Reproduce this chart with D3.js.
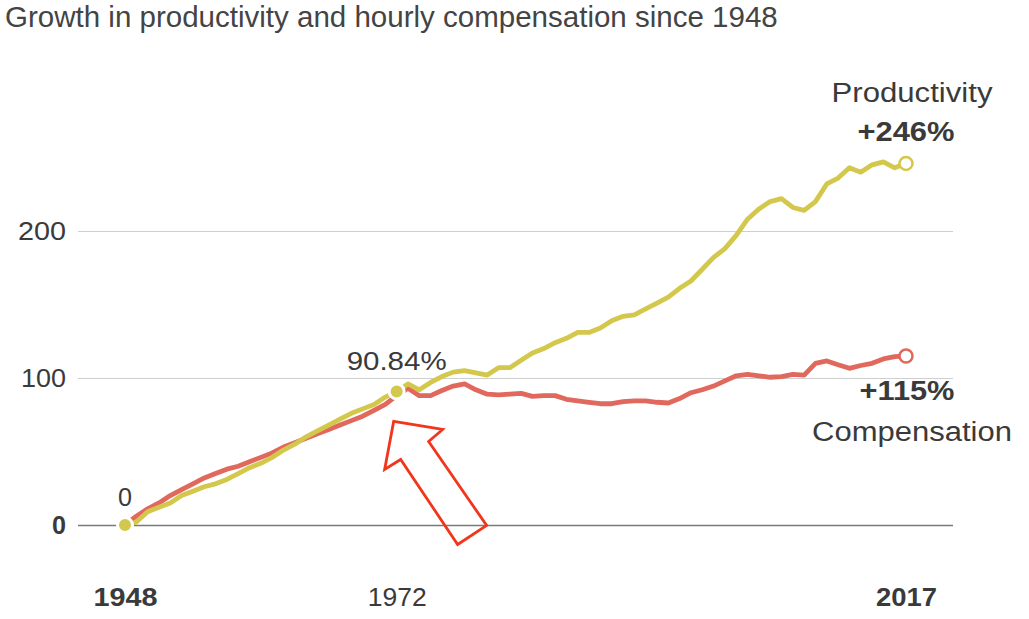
<!DOCTYPE html>
<html>
<head>
<meta charset="utf-8">
<script src="https://cdn.jsdelivr.net/npm/d3@7"></script>
<style>
  html, body { margin: 0; padding: 0; background: #fff; }
  svg { display: block; font-family: "Liberation Sans", Arial, sans-serif; }
</style>
</head>
<body>
<svg id="chart" width="1029" height="619"></svg>
<script>
const years = d3.range(1948, 2018);
const productivity = [
  0, 2, 9, 12, 15, 20, 23, 26, 28, 31,
  35, 39, 42, 46, 51, 55, 60, 64, 68, 72,
  76, 79, 82, 87, 90.84, 96, 92, 97, 101, 104,
  105, 103.5, 102, 107, 107, 112, 117, 120, 124, 127,
  131, 131, 134, 139, 142, 143, 147, 151, 155, 161,
  166, 174, 182, 188, 197, 208, 215, 220, 222, 216,
  214, 220, 232, 236, 243, 240, 245, 247, 243, 246
];
const compensation = [
  0, 6, 11, 15, 20, 24, 28, 32, 35, 38,
  40, 43, 46, 49, 53, 56, 59, 62, 65, 68,
  71, 74, 78, 82, 88, 93, 88, 88, 91.5, 94.5,
  96, 92, 89, 88.5, 89, 89.5, 87.5, 88, 88, 85.5,
  84.5, 83.5, 82.5, 82.5, 84, 84.5, 84.5, 83.5, 83, 86,
  90, 92, 94.5, 98, 101.5, 102.5, 101.5, 100.5, 101, 102.5,
  102, 110, 111.6, 109, 106.6, 108.5, 110, 113, 114.5, 115
];
const yTicks = [0, 100, 200];
const xTicks = [1948, 1972, 2017];
const boldXTicks = [1948, 2017];
const title = "Growth in productivity and hourly compensation since 1948";
const highlightYear = 1972;
const highlightValue = 90.84;
const highlightLabel = "90.84%";
const prodFinalLabel = "+246%";
const compFinalLabel = "+115%";

const YELLOW = "#d3c84b";
const RED = "#e0685c";
const TEXT = "#3a3a3a";

const svg = d3.select("#chart");
const x = d3.scaleLinear().domain([1948, 2017]).range([125, 906]);
const y = d3.scaleLinear().domain([0, 200]).range([525, 231]);

function fitWidth(sel, w) {
  sel.attr("textLength", w).attr("lengthAdjust", "spacingAndGlyphs");
}

// title, fitted to width
const t = svg.append("text").attr("x", 5).attr("y", 27)
  .attr("fill", "#444").style("font-size", "26px").text(title);
const tw = t.node().getComputedTextLength();
t.style("font-size", (26 * 773 / tw) + "px");

// y grid via axis
const yTickWidths = {0: 14, 100: 45, 200: 48};
const yAxis = d3.axisLeft(y).tickValues(yTicks).tickSize(-(953 - 78)).tickFormat(d3.format("d"));
const gy = svg.append("g").attr("transform", "translate(78,0)").call(yAxis);
gy.select(".domain").remove();
gy.selectAll(".tick line").attr("stroke", d => d === 0 ? "#7a7a7a" : "#cfcfcf").attr("stroke-width", d => d === 0 ? 1.5 : 1);
gy.selectAll(".tick text").attr("x", -12).attr("fill", TEXT)
  .style("font-size", "25px").style("font-family", "'Liberation Sans', Arial, sans-serif")
  .style("font-weight", d => d === 0 ? "bold" : "normal")
  .attr("textLength", d => yTickWidths[d]).attr("lengthAdjust", "spacingAndGlyphs");

// x axis labels
const xTickWidths = {1948: 64, 1972: 59, 2017: 61};
const xAxis = d3.axisBottom(x).tickValues(xTicks).tickSize(0).tickFormat(d3.format("d"));
const gx = svg.append("g").attr("transform", "translate(0,585)").call(xAxis);
gx.select(".domain").remove();
gx.selectAll(".tick text").attr("fill", TEXT)
  .style("font-size", "25px").style("font-family", "'Liberation Sans', Arial, sans-serif")
  .style("font-weight", d => boldXTicks.includes(d) ? "bold" : "normal")
  .attr("textLength", d => xTickWidths[d]).attr("lengthAdjust", "spacingAndGlyphs");

// lines
const line = d3.line().x((d, i) => x(years[i])).y(d => y(d)).curve(d3.curveLinear);
svg.append("path").datum(compensation).attr("d", line)
  .attr("fill", "none").attr("stroke", RED).attr("stroke-width", 4.8).attr("stroke-linejoin", "round");
svg.append("path").datum(productivity).attr("d", line)
  .attr("fill", "none").attr("stroke", YELLOW).attr("stroke-width", 4.8).attr("stroke-linejoin", "round");

// highlight dots
const hi = years.indexOf(highlightYear);
[[1948, productivity[0]], [highlightYear, productivity[hi]]].forEach(([yr, v]) => {
  svg.append("circle").attr("cx", x(yr)).attr("cy", y(v)).attr("r", 7.5)
    .attr("fill", YELLOW).attr("stroke", "#fff").attr("stroke-width", 3);
});

// end circles
const last = years.length - 1;
svg.append("circle").attr("cx", x(years[last])).attr("cy", y(productivity[last])).attr("r", 6.5)
  .attr("fill", "#fff").attr("stroke", YELLOW).attr("stroke-width", 2.5);
svg.append("circle").attr("cx", x(years[last])).attr("cy", y(compensation[last])).attr("r", 6.5)
  .attr("fill", "#fff").attr("stroke", RED).attr("stroke-width", 2.5);

// annotations
function label(txt, xx, yy, size, weight, w) {
  const s = svg.append("text").attr("x", xx).attr("y", yy).attr("text-anchor", "middle")
    .attr("fill", TEXT).style("font-size", size + "px").style("font-weight", weight || "normal").text(txt);
  if (w) fitWidth(s, w);
}
label("0", x(1948), y(0) - 19, 25, "normal", 14);
label(highlightLabel, x(highlightYear), y(highlightValue) - 21, 25, "normal", 100);
label("Productivity", x(2017) + 6, 102, 27, "normal", 161);
label(prodFinalLabel, x(2017), 141, 27, "bold", 97);
label(compFinalLabel, x(2017) + 1, 400, 27, "bold", 95);
label("Compensation", x(2017) + 6, 441, 27, "normal", 200);

// arrow pointing to highlight point
const ax = x(highlightYear), ay = y(highlightValue);
const arrowOffsets = [[-3, 30], [-12, 78], [4, 68], [61, 153], [90, 134], [32, 50], [46, 38]];
svg.append("polygon")
  .attr("points", arrowOffsets.map(([dx, dy]) => [ax + dx, ay + dy].join(",")).join(" "))
  .attr("fill", "none").attr("stroke", "#f2361c").attr("stroke-width", 2.8).attr("stroke-linejoin", "miter");
</script>
</body>
</html>
